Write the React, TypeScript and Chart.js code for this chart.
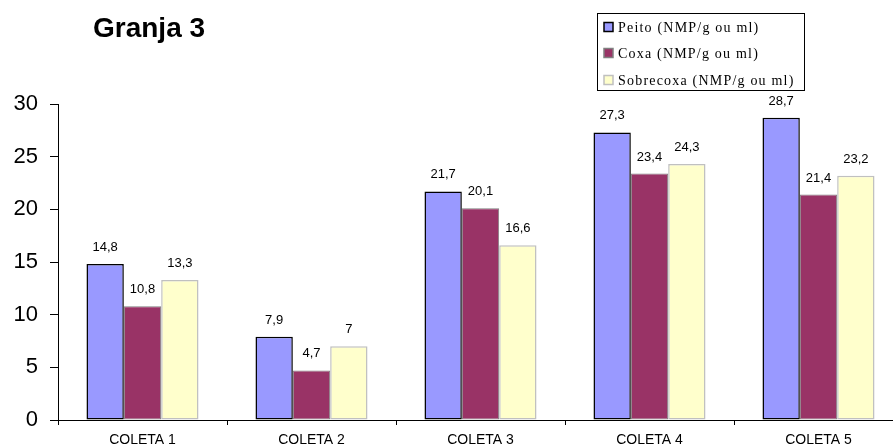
import React, { useEffect, useRef } from "react";
import { Chart, registerables } from "chart.js";

Chart.register(...registerables);

const categories = ["COLETA 1", "COLETA 2", "COLETA 3", "COLETA 4", "COLETA 5"];
const seriesNames = ["Peito (NMP/g ou ml)", "Coxa (NMP/g ou ml)", "Sobrecoxa (NMP/g ou ml)"];
const peito = [14.8, 7.9, 21.7, 27.3, 28.7];
const coxa = [10.8, 4.7, 20.1, 23.4, 21.4];
const sobrecoxa = [13.3, 7, 16.6, 24.3, 23.2];
const yTicks = [0, 5, 10, 15, 20, 25, 30];
const title = "Granja 3";

const fills = ["#9999FF", "#993366", "#FFFFCC"];
const borders = ["#000000", "#808080", "#C0C0C0"];
const borderWidths = [1.5, 1, 1.5];

const SANS = '"Liberation Sans", Arial, sans-serif';
const SERIF = '"Liberation Serif", "Times New Roman", serif';

const overlayPlugin = {
  id: "overlay",
  afterDatasetsDraw(chart: any) {
    const ctx = chart.ctx;
    ctx.save();
    // data labels
    ctx.font = `13px ${SANS}`;
    ctx.fillStyle = "#000";
    ctx.textAlign = "center";
    ctx.textBaseline = "alphabetic";
    chart.data.datasets.forEach((ds: any, di: number) => {
      const meta = chart.getDatasetMeta(di);
      meta.data.forEach((bar: any, i: number) => {
        const v = ds.data[i];
        const txt = String(v).replace(".", ",");
        ctx.fillText(txt, bar.x, bar.y - 13);
      });
    });
    // title
    ctx.font = `bold 28px ${SANS}`;
    ctx.textAlign = "left";
    ctx.fillText(title, 93, 37);
    // legend
    const lx = 597.5, ly = 13.5, lw = 207, lh = 77;
    ctx.fillStyle = "#fff";
    ctx.fillRect(lx, ly, lw, lh);
    ctx.strokeStyle = "#000";
    ctx.lineWidth = 1;
    ctx.strokeRect(lx, ly, lw, lh);
    ctx.font = `14px ${SERIF}`;
    (ctx as any).letterSpacing = "1.2px";
    const rows = [27, 53, 80];
    seriesNames.forEach((name, i) => {
      const cy = rows[i];
      ctx.fillStyle = fills[i];
      ctx.fillRect(604, cy - 4.5, 9, 9);
      ctx.strokeStyle = borders[i];
      ctx.lineWidth = 1.5;
      ctx.strokeRect(604, cy - 4.5, 9, 9);
      ctx.fillStyle = "#000";
      ctx.textBaseline = "alphabetic";
      ctx.fillText(name, 618, cy + 5);
    });
    ctx.restore();
  },
};

export default function App() {
  const ref = useRef<HTMLCanvasElement>(null);
  useEffect(() => {
    if (!ref.current) return;
    const datasets = [peito, coxa, sobrecoxa].map((d, i) => ({
      label: seriesNames[i],
      data: d,
      backgroundColor: fills[i],
      borderColor: borders[i],
      borderWidth: borderWidths[i],
      borderSkipped: false,
      categoryPercentage: 0.663,
      barPercentage: 1,
    }));
    const chart = new Chart(ref.current, {
      type: "bar",
      data: { labels: categories, datasets },
      options: {
        animation: false,
        responsive: false,
        devicePixelRatio: 1,
        layout: { padding: { top: 104, left: 0, right: 1, bottom: 0 } },
        plugins: { legend: { display: false }, tooltip: { enabled: false }, title: { display: false } },
        scales: {
          x: {
            offset: true,
            grid: { display: true, drawOnChartArea: false, offset: true, tickLength: 5, color: "#000", tickColor: "#000" },
            border: { display: true, color: "#000", width: 1 },
            ticks: { color: "#000", font: { family: SANS, size: 14 }, padding: 7, maxRotation: 0 },
            afterFit: (s: any) => { s.height = 27; },
          },
          y: {
            min: 0,
            max: 30,
            afterBuildTicks: (s: any) => { s.ticks = yTicks.map((v) => ({ value: v })); },
            grid: { display: true, drawOnChartArea: false, tickLength: 8, color: "#000", tickColor: "#000" },
            border: { display: true, color: "#000", width: 1 },
            ticks: { color: "#000", font: { family: SANS, size: 22 }, padding: 12 },
            afterFit: (s: any) => { s.width = 58; },
          },
        },
      },
      plugins: [overlayPlugin],
    });
    return () => chart.destroy();
  }, []);
  return (
    <div style={{ position: "fixed", left: 0, top: 0, width: 893, height: 447, overflow: "hidden", background: "#fff" }}>
      <canvas ref={ref} width={904} height={447} style={{ display: "block", width: 904, height: 447 }} />
    </div>
  );
}
